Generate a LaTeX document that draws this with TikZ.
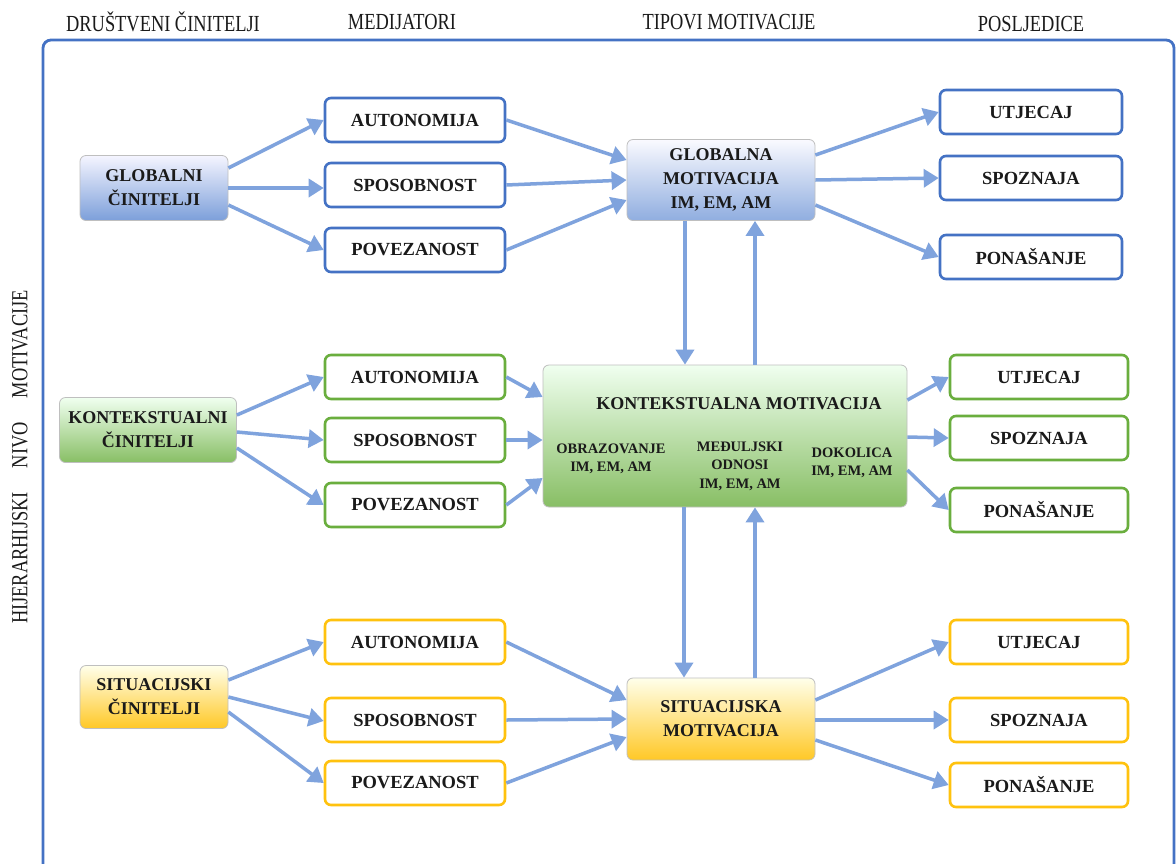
\documentclass[tikz,border=0pt]{standalone}
\usepackage{fontspec}
\setmainfont{Liberation Serif}
\newfontfamily\hdr[FakeStretch=0.8]{Liberation Serif}
\usetikzlibrary{arrows.meta,calc}
\definecolor{frameblue}{HTML}{4472C4}
\definecolor{arrowc}{HTML}{7FA3DD}
\definecolor{gradblue}{HTML}{7C9FDA}
\definecolor{bgreen}{HTML}{6AAE3E}
\definecolor{byellow}{HTML}{FFC20E}
\definecolor{txt}{HTML}{1A1A1A}
\tikzset{
  hdrtext/.style={font=\hdr\fontsize{23}{26}\selectfont, text=txt},
  medbox/.style={draw, rounded corners=6pt, line width=2.6pt, fill=white, minimum width=180pt, minimum height=44pt, inner sep=0pt, font=\bfseries\fontsize{18.5}{22}\selectfont, text=txt},
  gradbox/.style={draw=black!25, line width=0.8pt, rounded corners=6pt, inner sep=0pt, align=center, font=\bfseries\fontsize{18}{24}\selectfont, text=txt},
  blueshade/.style={gradbox, top color=blue!4!white, bottom color=gradblue},
  greenshade/.style={gradbox, top color=green!6!white, bottom color=bgreen!80!white},
  yellowshade/.style={gradbox, top color=yellow!8!white, bottom color=byellow!90!white},
  subtext/.style={font=\bfseries\fontsize{14.5}{18.5}\selectfont, text=txt, align=center},
  arr/.style={draw=arrowc, line width=3.5pt, -{Triangle[length=15pt,width=18pt]}},
}
\begin{document}
\begin{tikzpicture}[x=1pt,y=-1pt]
\useasboundingbox (0,0) rectangle (1176,863);
\fill[white] (0,0) rectangle (1176,863);
% frame
\begin{scope}
\clip (0,0) rectangle (1176,863);
\draw[frameblue, line width=2.8pt, rounded corners=8pt] (43,40) rectangle (1174,900);
\end{scope}
% headers
\node[hdrtext] (h1) at (163,22) {DRUŠTVENI ČINITELJI};
\node[hdrtext] (h2) at (402,22) {MEDIJATORI};
\node[hdrtext] (h3) at (729,22) {TIPOVI MOTIVACIJE};
\node[hdrtext] (h4) at (1031,24) {POSLJEDICE};
\node[hdrtext, rotate=90] (hv) at (20,457) {HIJERARHIJSKI\hspace{24pt}NIVO\hspace{24pt}MOTIVACIJE};

% ---------- global ----------
\node[blueshade, minimum width=148pt, minimum height=65pt] (gf) at (154,188) {GLOBALNI\\ČINITELJI};
\node[medbox, draw=frameblue] (ga) at (415,120) {AUTONOMIJA};
\node[medbox, draw=frameblue] (gs) at (415,185) {SPOSOBNOST};
\node[medbox, draw=frameblue] (gp) at (415,250) {POVEZANOST};
\node[blueshade, top color=blue!2!white, bottom color=gradblue!85!white, minimum width=188pt, minimum height=81pt] (gm) at (721,180) {GLOBALNA\\MOTIVACIJA\\IM, EM, AM};
\node[medbox, draw=frameblue, minimum width=182pt] (gu) at (1031,112) {UTJECAJ};
\node[medbox, draw=frameblue, minimum width=182pt] (gz) at (1031,178) {SPOZNAJA};
\node[medbox, draw=frameblue, minimum width=182pt] (gn) at (1031,257) {PONAŠANJE};

\draw[arr] ([yshift=20pt]gf.east) -- (ga.west);
\draw[arr] (gf.east) -- (gf.east -| gs.west);
\draw[arr] ([yshift=-17pt]gf.east) -- (gp.west);
\draw[arr] (ga.east) -- ([yshift=20pt]gm.west);
\draw[arr] (gs.east) -- (gm.west);
\draw[arr] (gp.east) -- ([yshift=-20pt]gm.west);
\draw[arr] ([yshift=25pt]gm.east) -- (gu.west);
\draw[arr] (gm.east) -- (gz.west);
\draw[arr] ([yshift=-25pt]gm.east) -- (gn.west);

% ---------- context ----------
\node[greenshade, minimum width=177pt, minimum height=65pt] (kf) at (148,430) {KONTEKSTUALNI\\ČINITELJI};
\node[medbox, draw=bgreen] (ka) at (415,377) {AUTONOMIJA};
\node[medbox, draw=bgreen] (ks) at (415,440) {SPOSOBNOST};
\node[medbox, draw=bgreen] (kp) at (415,505) {POVEZANOST};
\node[greenshade, minimum width=364pt, minimum height=142pt] (km) at (725,436) {};
\node[font=\bfseries\fontsize{18}{22}\selectfont, text=txt] (kmt) at (739,404) {KONTEKSTUALNA MOTIVACIJA};
\node[subtext] (km1) at (611,459) {OBRAZOVANJE\\IM, EM, AM};
\node[subtext] (km2) at (740,466) {MEĐULJSKI\\ODNOSI\\IM, EM, AM};
\node[subtext] (km3) at (852,463) {DOKOLICA\\IM, EM, AM};
\node[medbox, draw=bgreen, minimum width=178pt] (ku) at (1039,377) {UTJECAJ};
\node[medbox, draw=bgreen, minimum width=178pt] (kz) at (1039,438) {SPOZNAJA};
\node[medbox, draw=bgreen, minimum width=178pt] (kn) at (1039,510) {PONAŠANJE};

\draw[arr] ([yshift=15pt]kf.east) -- (ka.west);
\draw[arr] ([yshift=-2pt]kf.east) -- (ks.west);
\draw[arr] ([yshift=-18pt]kf.east) -- (kp.west);
\draw[arr] (ka.east) -- ([yshift=39pt]km.west);
\draw[arr] (ks.east) -- ([yshift=-4pt]km.west);
\draw[arr] (kp.east) -- ([yshift=-42pt]km.west);
\draw[arr] ([yshift=36pt]km.east) -- (ku.west);
\draw[arr] ([yshift=-1pt]km.east) -- (kz.west);
\draw[arr] ([yshift=-34pt]km.east) -- (kn.west);

% vertical arrows global <-> context
\draw[arr] ([xshift=-36pt]gm.south) -- ([xshift=-36pt]gm.south |- km.north);
\draw[arr] ([xshift=34pt]gm.south |- km.north) -- ([xshift=34pt]gm.south);

% ---------- situational ----------
\node[yellowshade, minimum width=148pt, minimum height=63pt] (sf) at (154,697) {SITUACIJSKI\\ČINITELJI};
\node[medbox, draw=byellow] (sa) at (415,642) {AUTONOMIJA};
\node[medbox, draw=byellow] (ss) at (415,720) {SPOSOBNOST};
\node[medbox, draw=byellow] (sp) at (415,783) {POVEZANOST};
\node[yellowshade, minimum width=188pt, minimum height=82pt] (sm) at (721,719) {SITUACIJSKA\\MOTIVACIJA};
\node[medbox, draw=byellow, minimum width=178pt] (su) at (1039,642) {UTJECAJ};
\node[medbox, draw=byellow, minimum width=178pt] (sz) at (1039,720) {SPOZNAJA};
\node[medbox, draw=byellow, minimum width=178pt] (sn) at (1039,785) {PONAŠANJE};

\draw[arr] ([yshift=17pt]sf.east) -- (sa.west);
\draw[arr] (sf.east) -- ([yshift=-1pt]ss.west);
\draw[arr] ([yshift=-15pt]sf.east) -- (sp.west);
\draw[arr] (sa.east) -- ([yshift=19pt]sm.west);
\draw[arr] (ss.east) -- (sm.west);
\draw[arr] (sp.east) -- ([yshift=-18pt]sm.west);
\draw[arr] ([yshift=19pt]sm.east) -- (su.west);
\draw[arr] ([yshift=-1pt]sm.east) -- (sz.west);
\draw[arr] ([yshift=-21pt]sm.east) -- (sn.west);

% vertical arrows context <-> situational
\draw[arr] ([xshift=-41pt]km.south) -- ([xshift=-41pt]km.south |- sm.north);
\draw[arr] ([xshift=30pt]km.south |- sm.north) -- ([xshift=30pt]km.south);
\end{tikzpicture}
\end{document}
